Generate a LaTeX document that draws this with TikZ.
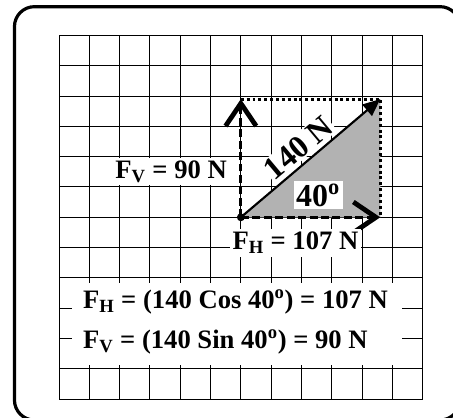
\documentclass[tikz,border=0pt]{standalone}
\usepackage{fontspec}
\setmainfont{Liberation Serif}
\usetikzlibrary{arrows.meta, positioning}

\begin{document}
\begin{tikzpicture}[x=0.8cm, y=0.8cm,
  lbl/.style={fill=white, inner sep=2pt, font=\fontsize{20}{24}\selectfont\bfseries},
  big/.style={fill=white, inner sep=2pt, font=\fontsize{24}{28}\selectfont\bfseries},
  comp/.style={line width=2.4pt, dash pattern=on 6pt off 2.6pt, -{Straight Barb[length=17pt, width=23pt, line width=3.6pt]}},
  side/.style={line width=2.2pt, dash pattern=on 2.2pt off 2.2pt}]
\useasboundingbox (-1.947,-0.594) rectangle (13.0,13.17);
\clip (-1.947,-0.594) rectangle (13.0,13.17);
\draw[line width=2.4pt, rounded corners=15pt] (-1.47,-0.69) rectangle (13.23,12.95);
\draw[line width=0.75pt, step=1] (0,0) grid (12,12);

% force and its two parts
\coordinate (O) at (6,6);
\coordinate (R) at (10.6,9.9);
\coordinate (H) at (10.6,6);
\coordinate (V) at (6,9.9);
\fill[black!30] (O) -- (R) -- (H) -- cycle;
\draw[side] (V) -- (R) -- (H);
\draw[comp] (O) -- (V);
\draw[comp] (O) -- (H);
\draw[line width=1.6pt, -{Triangle[length=13pt, width=11pt]}] (O) -- (R);
\fill (O) circle (0.13);

\node[lbl] (fv) at (3.7,7.51) {F\textsubscript{V} = 90 N};
\node[lbl] (fh) at (7.8,5.15) {F\textsubscript{H} = 107 N};
\node[big] (ang) at (8.55,6.73) {40\textsuperscript{o}};
\node[big, rotate=40, inner sep=1pt] (mag) at (7.9,8.3) {140 N};

% equations
\node[fill=white, inner sep=0pt, anchor=south west, minimum width=8.71cm, minimum height=2.17cm] (eqbox) at (0.43,1.12) {};
\node[lbl, fill=none, anchor=base west] (eqh) at (0.7,3.0) {F\textsubscript{H} = (140 Cos 40\textsuperscript{o}) = 107 N};
\node[lbl, fill=none, anchor=base west] (eqv) at (0.7,1.68) {F\textsubscript{V} = (140 Sin 40\textsuperscript{o}) = 90 N};
\end{tikzpicture}
\end{document}
